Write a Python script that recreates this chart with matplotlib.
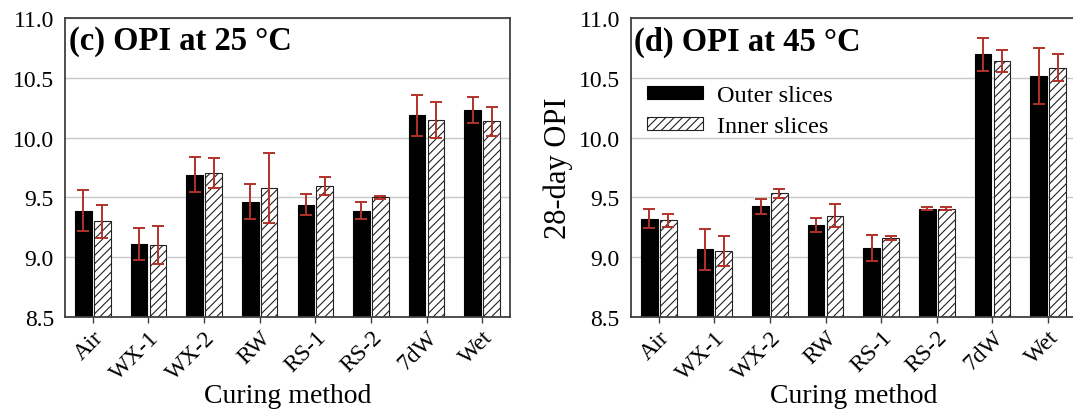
import numpy as np
import matplotlib
matplotlib.use("Agg")
import matplotlib.pyplot as plt

plt.rcParams["font.family"] = ["Liberation Serif", "DejaVu Serif"]
plt.rcParams["hatch.linewidth"] = 0.8

methods = ["Air", "WX-1", "WX-2", "RW", "RS-1", "RS-2", "7dW", "Wet"]

# (c) 25 °C
outer_25 = [9.39, 9.11, 9.69, 9.465, 9.44, 9.39, 10.185, 10.23]
outer_25_err = [0.17, 0.13, 0.145, 0.145, 0.085, 0.075, 0.168, 0.11]
inner_25 = [9.30, 9.10, 9.705, 9.577, 9.597, 9.50, 10.15, 10.137]
inner_25_err = [0.14, 0.16, 0.125, 0.29, 0.077, 0.012, 0.15, 0.122]

# (d) 45 °C
outer_45 = [9.322, 9.064, 9.426, 9.27, 9.078, 9.406, 10.695, 10.515]
outer_45_err = [0.077, 0.17, 0.062, 0.058, 0.11, 0.014, 0.139, 0.235]
inner_45 = [9.308, 9.053, 9.535, 9.347, 9.157, 9.406, 10.644, 10.585]
inner_45_err = [0.055, 0.126, 0.037, 0.094, 0.016, 0.014, 0.092, 0.115]

err_col = "#b0322a"
spine_col = "#404040"

fig = plt.figure(figsize=(10.73, 4.14), dpi=100)
ax1 = fig.add_axes([0.0606, 0.232, 0.4147, 0.7222])
ax2 = fig.add_axes([0.588, 0.232, 0.4147, 0.7222])

x = np.arange(len(methods))
w = 0.3
off = 0.17


def draw(ax, outer, outer_err, inner, inner_err, title):
    ax.set_axisbelow(True)
    ax.yaxis.grid(True, color="#c8c8c8", linewidth=1.0)
    ax.bar(x - off, outer, w, color="black", edgecolor="black",
           linewidth=0.8, label="Outer slices", zorder=2)
    ax.bar(x + off, inner, w, color="white", edgecolor="#222222", hatch="////",
           linewidth=0.8, label="Inner slices", zorder=2)
    ax.errorbar(x - off, outer, yerr=outer_err, fmt="none", ecolor=err_col,
                elinewidth=1.4, capsize=4.3, capthick=1.4, zorder=3)
    ax.errorbar(x + off, inner, yerr=inner_err, fmt="none", ecolor=err_col,
                elinewidth=1.4, capsize=4.3, capthick=1.4, zorder=3)
    ax.set_xlim(-0.5, 7.5)
    ax.set_ylim(8.5, 11.0)
    ax.set_yticks([8.5, 9.0, 9.5, 10.0, 10.5, 11.0])
    ax.set_yticklabels(["8.5", "9.0", "9.5", "10.0", "10.5", "11.0"])
    ax.set_xticks(x)
    ax.set_xticklabels(methods, rotation=45, ha="right", rotation_mode="anchor")
    ax.tick_params(axis="y", length=0, pad=8, labelsize=17)
    ax.tick_params(axis="x", length=4, width=1.0, color=spine_col, pad=3, labelsize=17)
    for s in ax.spines.values():
        s.set_color(spine_col)
        s.set_linewidth(1.3)
    ax.set_xlabel("Curing method", fontsize=20, labelpad=0)
    ax.text(0.008, 0.975, title, transform=ax.transAxes, ha="left", va="top",
            fontsize=23.5, fontweight="bold")


draw(ax1, outer_25, outer_25_err, inner_25, inner_25_err, "(c) OPI at 25 °C")
draw(ax2, outer_45, outer_45_err, inner_45, inner_45_err, "(d) OPI at 45 °C")
ax2.set_ylabel("28-day OPI", fontsize=22, labelpad=4)
ax2.legend(loc="upper left", bbox_to_anchor=(0.036, 0.775), frameon=False,
           fontsize=17.5, handlelength=2.3, handleheight=0.45, labelspacing=0.4,
           handletextpad=0.6, borderaxespad=0, borderpad=0)

fig.savefig("out.png", dpi=100)
